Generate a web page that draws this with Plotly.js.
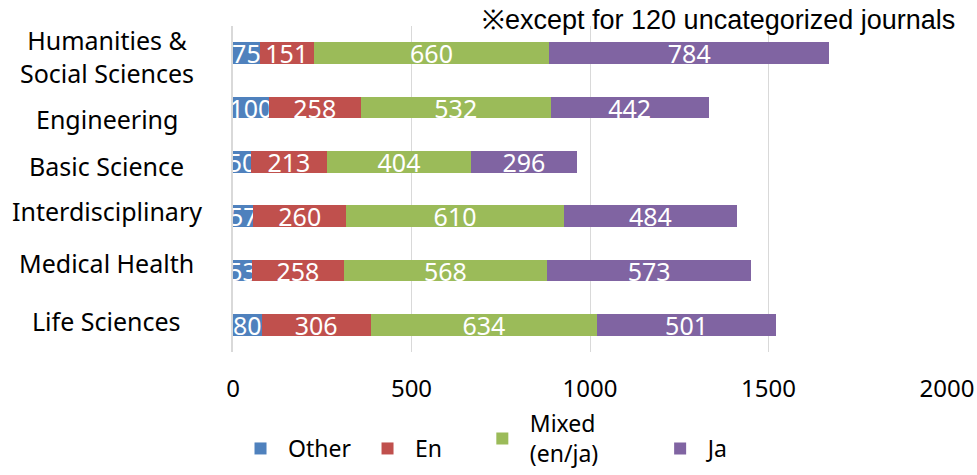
<!DOCTYPE html>
<html>
<head>
<meta charset="utf-8">
<script src="https://cdn.plot.ly/plotly-3.0.1.min.js"></script>
<style>html,body{margin:0;padding:0;background:#fff;}#chart{width:977px;height:475px;}</style>
</head>
<body>
<div id="chart"></div>
<script>
const categories = ["Humanities &<br>Social Sciences", "Engineering", "Basic Science", "Interdisciplinary", "Medical Health", "Life Sciences"];
const other = [75, 100, 50, 57, 53, 80];
const en = [151, 258, 213, 260, 258, 306];
const mixed = [660, 532, 404, 610, 568, 634];
const ja = [784, 442, 296, 484, 573, 501];
const seriesNames = ["Other", "En", "Mixed<br>(en/ja)", "Ja"];
const seriesColors = ["#4F81BD", "#C0504D", "#9BBB59", "#8064A2"];
const xTicks = [0, 500, 1000, 1500, 2000];
const noteText = "※except for 120 uncategorized journals";

// styling: small vertical nudges of the category labels (pixels)
const labelNudge = [-3, -11, -4, 5, 8, 4];

const FAM = "'Noto Sans', 'Open Sans', sans-serif";
const labelFont = {family: FAM, size: 24, color: "#000"};
const catFont = {family: FAM, size: 25, color: "#000"};
const seriesValues = [other, en, mixed, ja];
const legendIds = ["legend", "legend2", "legend3", "legend4"];
const legendX = [0.2385, 0.3685, 0.486, 0.668];
const legendY = [0.0105, 0.0105, 0.0, 0.0105];

const traces = seriesValues.map((vals, i) => ({
  type: "bar",
  orientation: "h",
  name: seriesNames[i],
  legend: legendIds[i],
  y: categories,
  x: vals,
  marker: {color: seriesColors[i]},
  text: vals.map(String),
  textposition: "inside",
  insidetextanchor: "middle",
  textangle: 0,
  constraintext: "none",
  cliponaxis: true,
  insidetextfont: {family: FAM, size: 25, color: "#fff"},
  hoverinfo: "x+name"
}));

const annotations = categories.map((c, i) => ({
  text: c,
  xref: "paper", yref: "y",
  x: -0.1765, y: c,
  xanchor: "center", yanchor: "middle",
  yshift: labelNudge[i],
  align: "center",
  showarrow: false,
  font: catFont
}));
annotations.push({
  text: noteText,
  xref: "paper", yref: "paper",
  x: 1.014, xanchor: "right",
  y: 1.018, yanchor: "middle",
  showarrow: false,
  font: {family: "'Liberation Sans', Arial, sans-serif", size: 27, color: "#000"}
});

const layout = {
  width: 977, height: 475,
  margin: {l: 233, r: 30, t: 26, b: 123, autoexpand: false},
  paper_bgcolor: "#fff", plot_bgcolor: "#fff",
  barmode: "stack",
  bargap: 0.6,
  xaxis: {
    range: [0, 2000],
    tickvals: xTicks,
    ticktext: xTicks.map(String),
    showgrid: true, gridcolor: "#d9d9d9", gridwidth: 1,
    zeroline: false, showline: false,
    ticks: "", ticklabelstandoff: 20,
    tickfont: labelFont,
    automargin: false,
    fixedrange: true
  },
  yaxis: {
    type: "category",
    range: [5.5, -0.5],
    showticklabels: false,
    showgrid: false,
    showline: true, linecolor: "#d9d9d9", linewidth: 2,
    zeroline: false, ticks: "",
    automargin: false,
    fixedrange: true
  },
  annotations: annotations,
  showlegend: true
};
legendIds.forEach((id, i) => {
  layout[id] = {
    orientation: "h",
    xref: "container", yref: "container",
    x: legendX[i], xanchor: "left",
    y: legendY[i], yanchor: "bottom",
    font: {family: FAM, size: 23, color: "#000"},
    valign: "middle",
    itemwidth: 45,
    bgcolor: "rgba(0,0,0,0)"
  };
});

Plotly.newPlot("chart", traces, layout, {displayModeBar: false, staticPlot: true});
</script>
</body>
</html>
